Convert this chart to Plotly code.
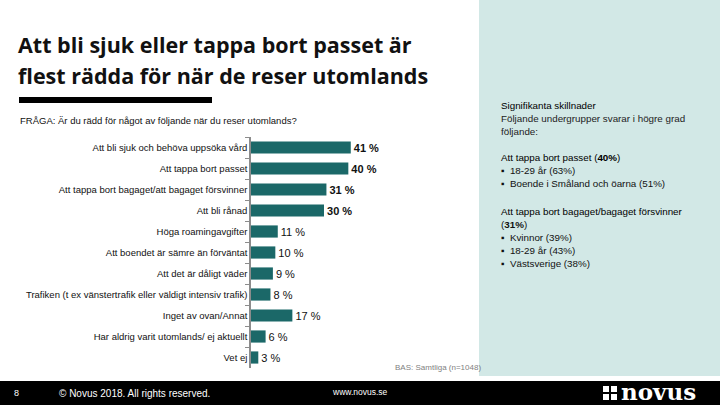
import plotly.graph_objects as go

categories = [
    "Att bli sjuk och behöva uppsöka vård",
    "Att tappa bort passet",
    "Att tappa bort bagaget/att bagaget försvinner",
    "Att bli rånad",
    "Höga roamingavgifter",
    "Att boendet är sämre än förväntat",
    "Att det är dåligt väder",
    "Trafiken (t ex vänstertrafik eller väldigt intensiv trafik)",
    "Inget av ovan/Annat",
    "Har aldrig varit utomlands/ ej aktuellt",
    "Vet ej",
]
values = [41, 40, 31, 30, 11, 10, 9, 8, 17, 6, 3]
bold_top = [True, True, True, True, False, False, False, False, False, False, False]

labels = [("<b>%d %%</b>" % v) if b else ("%d %%" % v) for v, b in zip(values, bold_top)]

BAR = "#1b6868"
PANEL = "#d2e8e6"
FONT = "Liberation Sans"

W, H = 720, 405
L, R, T, B = 251, 323, 137, 37
pw, ph = W - L - R, H - T - B

def px(x):
    return (x - L) / pw

def py(y):
    return (H - B - y) / ph

fig = go.Figure()
fig.add_trace(go.Bar(
    x=values, y=categories, orientation="h",
    marker=dict(color=BAR, line=dict(width=0)),
    width=0.58,
    text=labels, textposition="outside", cliponaxis=False,
    textfont=dict(family=FONT, size=11, color="#111111"),
    hoverinfo="skip",
))

fig.update_layout(
    width=W, height=H,
    margin=dict(l=L, r=R, t=T, b=B),
    paper_bgcolor="white", plot_bgcolor="rgba(0,0,0,0)",
    showlegend=False,
    xaxis=dict(range=[0, 60], visible=False, fixedrange=True),
    yaxis=dict(
        autorange="reversed", type="category",
        showline=True, linecolor="#8c8c8c", linewidth=1.5,
        ticks="outside", tickson="boundaries", ticklen=4, tickcolor="#8c8c8c",
        tickfont=dict(family=FONT, size=9.5, color="#111111"),
        showgrid=False, zeroline=False, fixedrange=True,
    ),
    font=dict(family=FONT),
)

shapes = [
    dict(type="rect", xref="paper", yref="paper", x0=px(479), x1=px(720), y0=py(376), y1=py(0),
         line=dict(width=0), fillcolor=PANEL, layer="below"),
    dict(type="rect", xref="paper", yref="paper", x0=px(0), x1=px(720), y0=py(405), y1=py(381),
         line=dict(width=0), fillcolor="black", layer="above"),
    dict(type="rect", xref="paper", yref="paper", x0=px(19), x1=px(212), y0=py(103), y1=py(97),
         line=dict(width=0), fillcolor="black", layer="above"),
]
# logo squares
for cx in (603, 611):
    for cy in (386, 394):
        shapes.append(dict(type="rect", xref="paper", yref="paper",
                           x0=px(cx), x1=px(cx + 6), y0=py(cy + 6), y1=py(cy),
                           line=dict(width=0), fillcolor="white", layer="above"))
fig.update_layout(shapes=shapes)

ann = []

def text(x, y, s, size=9, color="#111111", xanchor="left", bold=False, family=FONT):
    ann.append(dict(xref="paper", yref="paper", x=px(x), y=py(y), text=("<b>%s</b>" % s) if bold else s,
                    showarrow=False, xanchor=xanchor, yanchor="middle",
                    font=dict(family=family, size=size, color=color)))

text(16, 45, "Att bli sjuk eller tappa bort passet är", size=21.5, bold=True, family="Open Sans")
text(16, 75, "flest rädda för när de reser utomlands", size=21.5, bold=True, family="Open Sans")
text(18, 121, "FRÅGA: Är du rädd för något av följande när du reser utomlands?", size=9.5)

rx = 499
fs = 9.8
text(rx, 105, "Signifikanta skillnader", size=fs, color="#000000")
text(rx, 118, "Följande undergrupper svarar i högre grad", size=fs, color="#222222")
text(rx, 131, "följande:", size=fs, color="#222222")
text(rx, 157, "Att tappa bort passet (<b>40%</b>)", size=fs, color="#000000")
text(rx, 170, "▪  18-29 år (63%)", size=fs)
text(rx, 183, "▪  Boende i Småland och öarna (51%)", size=fs)
text(rx, 211, "Att tappa bort bagaget/bagaget försvinner", size=fs, color="#000000")
text(rx, 224, "(<b>31%</b>)", size=fs)
text(rx, 237, "▪  Kvinnor (39%)", size=fs)
text(rx, 250, "▪  18-29 år (43%)", size=fs)
text(rx, 263, "▪  Västsverige (38%)", size=fs)

text(393, 367, "BAS: Samtliga (n=1048)", size=8, color="#7f7f7f")

text(12, 393, "8", size=9, color="white")
text(57, 393, "© Novus 2018. All rights reserved.", size=10, color="white")
text(330, 392, "www.novus.se", size=8.5, color="white")
text(619, 391, "<b>novus</b>", size=23, color="white", family="DejaVu Serif")

fig.update_layout(annotations=ann)
fig.write_html("out.html", config={"displayModeBar": False, "staticPlot": False},
               post_script="document.body.style.margin='0';document.body.style.overflow='hidden';")
